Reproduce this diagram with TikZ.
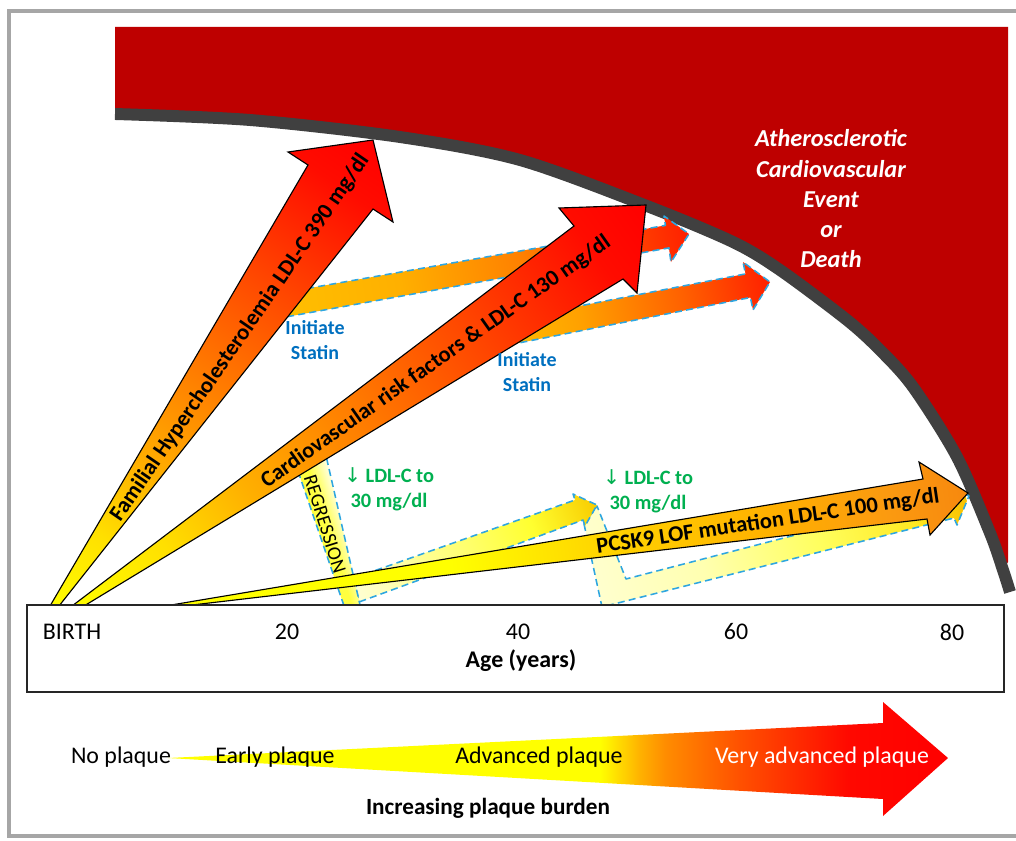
\documentclass[tikz,border=0pt]{standalone}
\usepackage{fontspec}
\setmainfont{Carlito}
\newfontfamily\symfont{DejaVu Sans}
\definecolor{evred}{HTML}{BE0000}
\definecolor{bandgray}{HTML}{404040}
\definecolor{framegray}{HTML}{A6A6A6}
\definecolor{dashblue}{HTML}{2EA6E0}
\definecolor{statinblue}{HTML}{0070C0}
\definecolor{ldlgreen}{HTML}{00B050}
\definecolor{cY}{HTML}{FFFF00}
\definecolor{cR}{HTML}{FF0000}
\definecolor{fhA}{HTML}{FFE000}
\definecolor{fhB}{HTML}{FFB000}
\definecolor{fhC}{HTML}{FF7A00}
\definecolor{fhD}{HTML}{FF4400}
\definecolor{fhE}{HTML}{FF0C00}
\definecolor{pcA}{HTML}{FFD200}
\definecolor{pcB}{HTML}{FFB000}
\definecolor{pcC}{HTML}{FB9A10}
\definecolor{pcD}{HTML}{F7880E}
\definecolor{saA}{HTML}{FFC000}
\definecolor{saB}{HTML}{FFB000}
\definecolor{saC}{HTML}{FF8000}
\definecolor{saD}{HTML}{FF4800}
\definecolor{saE}{HTML}{FF2000}
\definecolor{sbA}{HTML}{FFC400}
\definecolor{sbB}{HTML}{FFA000}
\definecolor{sbC}{HTML}{FF6000}
\definecolor{sbD}{HTML}{FF2000}
\definecolor{rgA}{HTML}{FFFF40}
\definecolor{rgW}{HTML}{FFFFF0}
\definecolor{rbA}{HTML}{FFFFD8}
\definecolor{rbB}{HTML}{FFFF80}
\definecolor{rbC}{HTML}{FFFF30}
\definecolor{rbD}{HTML}{F8CC00}
\definecolor{rcA}{HTML}{FFFFD0}
\definecolor{rcB}{HTML}{FFFFB0}
\definecolor{rcC}{HTML}{FFFF60}
\definecolor{rcD}{HTML}{FFE820}
\definecolor{rcE}{HTML}{F8C000}
\definecolor{plA}{HTML}{FFB000}
\definecolor{plB}{HTML}{FF8C00}
\definecolor{plC}{HTML}{FF5000}
\definecolor{plD}{HTML}{FF0800}

\pgfdeclarehorizontalshading{shFH}{100bp}{color(0bp)=(cY); color(25bp)=(cY); color(33bp)=(fhA); color(40bp)=(fhB); color(50bp)=(fhC); color(60bp)=(fhD); color(70bp)=(fhE); color(75bp)=(cR); color(100bp)=(cR)}
\pgfdeclarehorizontalshading{shPC}{100bp}{color(0bp)=(cY); color(25bp)=(cY); color(43bp)=(cY); color(53bp)=(pcA); color(63bp)=(pcB); color(70bp)=(pcC); color(75bp)=(pcD); color(100bp)=(pcD)}
\pgfdeclarehorizontalshading{shSA}{100bp}{color(0bp)=(saA); color(25bp)=(saA); color(40bp)=(saB); color(55bp)=(saC); color(67bp)=(saD); color(75bp)=(saE); color(100bp)=(saE)}
\pgfdeclarehorizontalshading{shSB}{100bp}{color(0bp)=(sbA); color(25bp)=(sbA); color(42bp)=(sbB); color(60bp)=(sbC); color(75bp)=(sbD); color(100bp)=(sbD)}
\pgfdeclarehorizontalshading{shRA}{100bp}{color(0bp)=(rgA); color(25bp)=(rgA); color(50bp)=(rgA); color(75bp)=(rgW); color(100bp)=(rgW)}
\pgfdeclarehorizontalshading{shRB}{100bp}{color(0bp)=(rbA); color(25bp)=(rbA); color(45bp)=(rbB); color(62bp)=(rbC); color(75bp)=(rbD); color(100bp)=(rbD)}
\pgfdeclarehorizontalshading{shRC}{100bp}{color(0bp)=(rcA); color(25bp)=(rcA); color(40bp)=(rcB); color(55bp)=(rcC); color(68bp)=(rcD); color(75bp)=(rcE); color(100bp)=(rcE)}
\pgfdeclarehorizontalshading{shPL}{100bp}{color(0bp)=(cY); color(25bp)=(cY); color(52.7bp)=(cY); color(55.3bp)=(plA); color(56.9bp)=(plB); color(61.7bp)=(plC); color(68.7bp)=(plD); color(75bp)=(cR); color(100bp)=(cR)}

% #1 shading, #2 base point, #3 angle, #4 length, #5 closed path
\newcommand\gradpoly[5]{%
  \begin{scope}
    \clip #5;
    \begin{scope}[transform canvas={shift={#2},rotate=#3}]
      \shade[shading=#1] (-8,-300) rectangle (#4,300);
    \end{scope}
  \end{scope}}

\begin{document}
\begin{tikzpicture}[x=0.025cm,y=-0.025cm,
  blk/.style={draw=black,line width=0.8pt,line join=miter},
  dsh/.style={draw=dashblue,line width=1.1pt,dash pattern=on 5pt off 3pt,line join=round},
  lbl/.style={font=\bfseries\fontsize{16}{19}\selectfont,inner sep=0pt},
  statin/.style={text=statinblue,font=\bfseries\fontsize{14.2}{18.4}\selectfont,align=center,inner sep=0pt},
  ldl/.style={text=ldlgreen,font=\bfseries\fontsize{14.5}{17.7}\selectfont,align=center,inner sep=0pt},
  event/.style={text=white,font=\bfseries\itshape\fontsize{17.3}{21.5}\selectfont,align=center,inner sep=0pt},
  axlbl/.style={font=\fontsize{17}{20}\selectfont,inner sep=0pt},
  axtitle/.style={font=\bfseries\fontsize{17}{20}\selectfont,inner sep=0pt},
  plq/.style={font=\fontsize{17}{20}\selectfont,inner sep=0pt},
  burden/.style={font=\bfseries\fontsize{16.5}{20}\selectfont,inner sep=0pt}]
\useasboundingbox (0,0) rectangle (1016,840);
\fill[white] (0,0) rectangle (1016,840);
% frame
\draw[framegray,line width=2.4pt] (9,11) rectangle (1030,836);

% event region and boundary curve
\fill[evred] (115,27) -- (1008,27) -- (1008,562) -- plot[smooth] coordinates {(1003,570) (990,533) (957,457) (913,387) (880,350) (847,320) (780,270) (733,242) (647,206) (520,160) (400,137) (250,120) (115,114)} -- cycle;
\draw[bandgray,line width=8.5pt] plot[smooth] coordinates {(115,114) (250,120) (400,137) (520,160) (647,206) (733,242) (780,270) (847,320) (880,350) (913,387) (957,457) (990,533) (1003,570) (1010,592)};

% paths
\def\pSA{(285,292.4) -- (665.4,225.4) -- (664,216) -- (689,234) -- (671,262) -- (668.9,247.9) -- (280,318) -- cycle}
\def\pSB{(495,322.3) -- (745.5,273.9) -- (743,262) -- (770,282) -- (753,310) -- (750.4,297.5) -- (490,348.6) -- cycle}
\def\pRA{(290.8,450) -- (346.1,612) -- (361.6,612) -- (323.6,445) -- cycle}
\def\pRB{(354,578) -- (575,500) -- (573,494) -- (597,505) -- (585,526) -- (583,520) -- (359,602) -- cycle}
\def\pRC{(584,524) -- (602,607) -- (954,518) -- (957,525) -- (969,496) -- (946,483) -- (949,495) -- (626,579) -- (597,506) -- cycle}
\def\pFH{(50,606) -- (308,165) -- (288,152) -- (373,140) -- (393,222) -- (373,209) -- (59,606) -- cycle}
\def\pCV{(72,606) -- (574,226) -- (559,208) -- (646,205) -- (637,293) -- (623,279) -- (84,606) -- cycle}
\def\pPC{(165,606) -- (923,479) -- (919,462) -- (968,493) -- (930,535) -- (927,519) -- (175,607) -- cycle}

% statin arrows
\gradpoly{shSA}{(282,305)}{9.9}{413}{\pSA}
\draw[dsh] \pSA;
\gradpoly{shSB}{(492,335)}{10.8}{283}{\pSB}
\draw[dsh] \pSB;

% regression path
\gradpoly{shRC}{(600,600)}{14.5}{380}{\pRC}
\draw[dsh] \pRC;
\gradpoly{shRB}{(357,592)}{20}{255}{\pRB}
\draw[dsh] \pRB;
\gradpoly{shRA}{(312,523)}{17.5}{34}{\pRA}
\draw[dsh] \pRA;

% main arrows
\gradpoly{shFH}{(54,605)}{55.56}{564}{\pFH}
\draw[blk] \pFH;
\gradpoly{shFH}{(78,605)}{35.15}{695}{\pCV}
\draw[blk] \pCV;
\gradpoly{shPC}{(168,606)}{8.04}{808}{\pPC}
\draw[blk] \pPC;

% arrow labels
\node[lbl,rotate=55.5] (tFH) at (240,338) {Familial Hypercholesterolemia LDL-C 390 mg/dl};
\node[lbl,rotate=35.2] (tCV) at (436,362) {Cardiovascular risk factors \& LDL-C 130 mg/dl};
\node[lbl,rotate=8.5] (tPC) at (768,522) {PCSK9 LOF mutation LDL-C 100 mg/dl};
\node[font=\fontsize{14}{16}\selectfont,inner sep=0pt,rotate=-72.5] (tRG) at (325,524) {REGRESSION};

\node[statin] (st1) at (315,340) {Initiate\\Statin};
\node[statin] (st2) at (527,372) {Initiate\\Statin};
\node[ldl] (ld1) at (389,489) {{\symfont\mdseries ↓} LDL-C to\\30 mg/dl};
\node[ldl] (ld2) at (648,491) {{\symfont\mdseries ↓} LDL-C to\\30 mg/dl};

\node[event] (ev) at (831,199) {Atherosclerotic\\Cardiovascular\\Event\\or\\Death};

% age axis box
\draw[draw=black!85,line width=0.8pt,fill=white] (27,605) rectangle (1004,692);
\node[axlbl] (birth) at (72,632) {BIRTH};
\node[axlbl] (a20) at (287,632) {20};
\node[axlbl] (a40) at (518,632) {40};
\node[axlbl] (a60) at (736,632) {60};
\node[axlbl] (a80) at (952,632) {80};
\node[axtitle] (age) at (521,661) {Age (years)};

% plaque burden arrow
\shade[shading=shPL] (168,758) -- (883,723) -- (883,702) -- (948,758) -- (883,816) -- (883,799) -- cycle;
\node[plq] (np) at (121,757) {No plaque};
\node[plq] (ep) at (275,757) {Early plaque};
\node[plq] (ap) at (539,757) {Advanced plaque};
\node[plq,text=white] (vp) at (822,757) {Very advanced plaque};
\node[burden] (ipb) at (488,808) {Increasing plaque burden};
\end{tikzpicture}
\end{document}
